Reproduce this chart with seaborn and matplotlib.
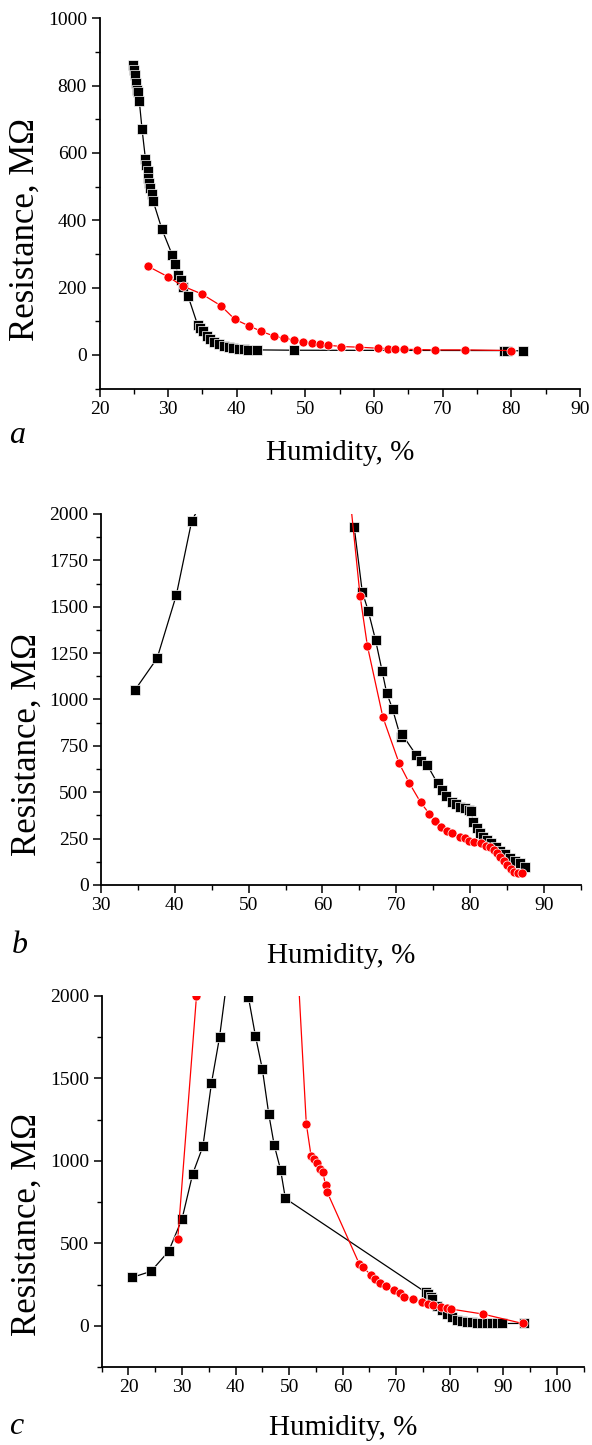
import numpy as np
import pandas as pd
import matplotlib
matplotlib.use("Agg")
import matplotlib.pyplot as plt
import seaborn as sns
from matplotlib.ticker import MultipleLocator

# --- panel a ---
a_black_x = [24.86, 25.0, 25.1, 25.3, 25.4, 25.6, 25.8, 26.2, 26.7, 26.8, 27.0, 27.1, 27.2, 27.4,
             27.6, 27.8, 29.1, 30.6, 31.0, 31.5, 31.9, 32.2, 32.9, 34.3, 34.6, 35.1, 35.7, 36.1,
             36.7, 37.4, 38.1, 38.8, 39.5, 40.3, 41.0, 41.7, 42.9, 48.4, 78.9, 79.4, 81.7]
a_black_y = [861, 847, 832, 807, 787, 782, 754, 670, 581, 564, 545, 527, 510, 495,
             478, 458, 373, 297, 269, 238, 223, 201, 175, 89, 79, 71, 56, 47,
             39, 32, 27, 23, 20, 18, 17, 16, 15, 14, 13, 13, 12]
a_red_x = [27.0, 30.0, 32.1, 34.9, 37.7, 39.7, 41.8, 43.6, 45.4, 46.9, 48.4, 49.7, 50.9,
           52.1, 53.3, 55.2, 57.8, 60.5, 62.1, 63.1, 64.4, 66.2, 68.9, 73.3, 80.0]
a_red_y = [264, 232, 205, 181, 146, 106, 86, 70, 56, 49, 45, 39, 36,
           33, 29, 25, 23, 20, 19, 18, 17, 16, 15, 15, 13]

# --- panel b ---
b_black1_x = [34.6, 37.6, 40.2, 42.3, 45.0]
b_black1_y = [1051, 1222, 1562, 1964, 2160]
b_black2_x = [64.3, 65.4, 66.2, 67.2, 68.1, 68.7, 69.5, 70.6, 70.8, 72.7, 73.3, 74.2, 75.6,
              76.2, 76.8, 77.5, 78.1, 78.7, 79.3, 79.8, 80.2, 80.4, 80.9, 81.3, 81.8, 82.3,
              82.9, 83.5, 84.1, 84.7, 85.4, 86.1, 86.8, 87.4]
b_black2_y = [1932, 1581, 1479, 1321, 1152, 1037, 949, 796, 812, 701, 668, 647, 548,
              512, 480, 449, 437, 422, 413, 404, 401, 341, 305, 282, 261, 243,
              225, 207, 185, 167, 144, 131, 117, 99]
b_red_x = [63.9, 65.1, 66.1, 68.2, 70.4, 71.8, 73.3, 74.5, 75.3, 76.1, 76.9, 77.6, 78.6, 79.3,
           79.9, 80.5, 81.5, 82.2, 82.7, 83.2, 83.7, 84.1, 84.6, 85.0, 85.5, 85.9, 86.5, 87.1]
b_red_y = [2030, 1560, 1288, 904, 656, 548, 446, 383, 347, 314, 293, 279, 261, 252,
           239, 234, 225, 212, 203, 189, 171, 153, 131, 108, 84, 72, 66, 63]

# --- panel c ---
c_black_x = [20.75, 24.2, 27.5, 30.0, 32.0, 33.9, 35.5, 37.0, 40.0, 42.4, 43.7, 45.0, 46.2,
             47.2, 48.4, 49.3, 75.5, 75.9, 76.4, 76.7, 77.6, 78.6, 79.5, 80.4, 81.4, 82.3,
             83.2, 84.2, 85.1, 86.1, 87.0, 87.9, 88.9, 89.8, 93.8]
c_black_y = [294, 330, 452, 648, 922, 1088, 1473, 1749, 2500, 1992, 1759, 1556, 1283,
             1098, 946, 772, 203, 193, 176, 162, 122, 95, 71, 51, 38, 30,
             24, 20, 18, 16, 16, 14, 14, 14, 14]
c_red_x = [29.2, 32.7, 50.0, 53.2, 54.1, 54.6, 55.2, 55.8, 56.3, 56.8, 57.1, 63.1, 63.8, 65.2,
           66.0, 66.9, 68.1, 69.6, 70.7, 71.5, 73.2, 74.8, 75.9, 76.8, 78.3, 79.4, 80.3, 86.2, 93.6]
c_red_y = [525, 2000, 3140, 1226, 1029, 1013, 989, 952, 932, 851, 811, 375, 355, 310,
           284, 259, 239, 217, 197, 176, 162, 144, 132, 126, 116, 107, 101, 71, 14]

sns.set_style("ticks")
plt.rcParams['font.family'] = ['Liberation Serif', 'DejaVu Serif']
for k in ['text.color', 'axes.labelcolor', 'xtick.color', 'ytick.color', 'axes.edgecolor']:
    plt.rcParams[k] = 'black'

W, H = 592, 1445
fig = plt.figure(figsize=(W / 100, H / 100), dpi=100)


def px_axes(left, top, right, bottom):
    return fig.add_axes([left / W, 1 - bottom / H, (right - left) / W, (bottom - top) / H])


def draw(ax, x, y, color, marker):
    sns.lineplot(x=x, y=y, ax=ax, color=color, marker=marker, markersize=6.5,
                 markeredgecolor='white', markeredgewidth=0.5, linewidth=0.9,
                 sort=False, estimator=None)


def style(ax, xlim, ylim, xmaj, ymaj, ylab_y, xlab_y, letter, letter_xy):
    ax.set_xlim(*xlim)
    ax.set_ylim(*ylim)
    ax.xaxis.set_major_locator(MultipleLocator(xmaj))
    ax.xaxis.set_minor_locator(MultipleLocator(xmaj / 2))
    ax.yaxis.set_major_locator(MultipleLocator(ymaj))
    ax.yaxis.set_minor_locator(MultipleLocator(ymaj / 2))
    sns.despine(ax=ax)
    for s in ['left', 'bottom']:
        ax.spines[s].set_linewidth(1.3)
    ax.tick_params(which='major', direction='out', length=6, width=1.1, labelsize=14, pad=3)
    ax.tick_params(which='minor', direction='out', length=3.5, width=1.0)
    ax.set_xlabel('Humidity, %', fontsize=21)
    ax.set_ylabel('Resistance, MΩ', fontsize=25)
    ax.xaxis.set_label_coords(0.5, xlab_y)
    ax.yaxis.set_label_coords(-0.12, ylab_y)
    fig.text(letter_xy[0] / W, 1 - letter_xy[1] / H, letter, style='italic',
             fontsize=23, ha='center', va='baseline')


ax_a = px_axes(99.5, 18.3, 580, 388.6)
draw(ax_a, a_black_x, a_black_y, 'black', 's')
draw(ax_a, a_red_x, a_red_y, 'red', 'o')
style(ax_a, (20, 90), (-100, 1000), 10, 200, 0.43, -0.138, 'a', (17, 443))

ax_b = px_axes(101, 514, 580.7, 885)
draw(ax_b, b_black1_x, b_black1_y, 'black', 's')
draw(ax_b, b_black2_x, b_black2_y, 'black', 's')
draw(ax_b, b_red_x, b_red_y, 'red', 'o')
style(ax_b, (30, 95), (0, 2000), 10, 250, 0.38, -0.155, 'b', (20, 953))

ax_c = px_axes(101.7, 996, 583.7, 1367)
draw(ax_c, c_black_x, c_black_y, 'black', 's')
draw(ax_c, c_red_x, c_red_y, 'red', 'o')
style(ax_c, (15, 105), (-250, 2000), 10, 500, 0.383, -0.13, 'c', (16, 1434))

fig.savefig('out.png', dpi=100)
